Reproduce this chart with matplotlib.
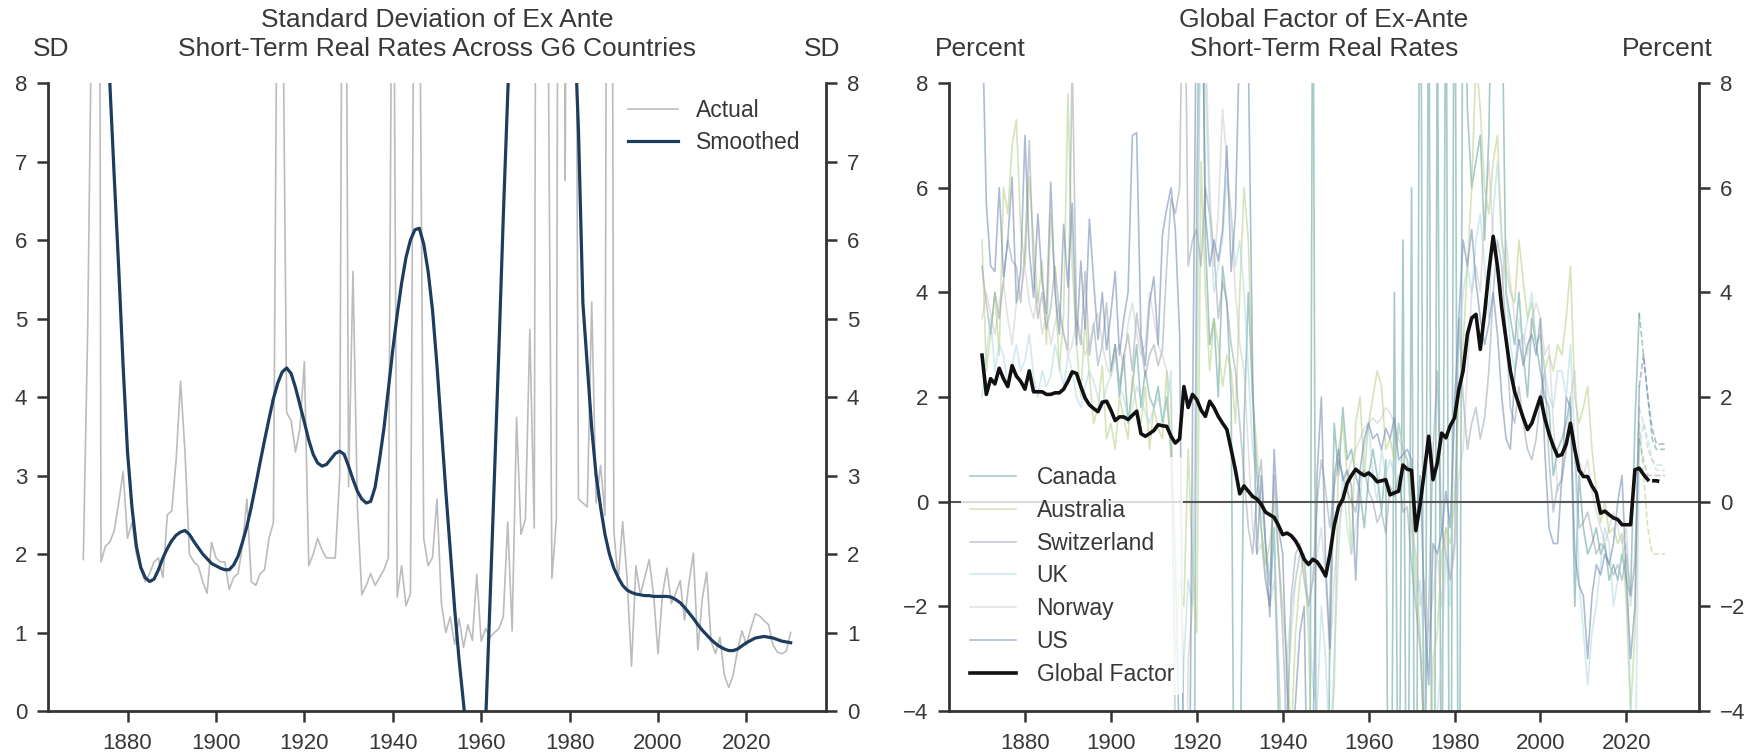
import numpy as np
import matplotlib
matplotlib.use('Agg')
import matplotlib.pyplot as plt

plt.rcParams['font.family'] = ['Liberation Sans', 'DejaVu Sans']

# ---------------- left panel data (1870-2030) ----------------
sd_years = list(range(1870, 2031))

sd_actual = [
    1.93, 4.9, 9.5, 30.0, 1.9, 2.1, 2.15, 2.3, 2.65, 3.05,      # 1870s
    2.2, 2.4, 2.0, 1.8, 1.65, 1.75, 1.9, 1.95, 1.7, 2.5,        # 1880s
    2.55, 3.2, 4.2, 3.3, 2.0, 1.9, 1.85, 1.65, 1.5, 2.15,       # 1890s
    1.95, 1.9, 1.9, 1.55, 1.7, 1.75, 2.1, 2.7, 1.65, 1.6,       # 1900s
    1.75, 1.8, 2.2, 2.4, 11.0, 10.0, 3.8, 3.7, 3.3, 3.6,        # 1910s
    4.45, 1.85, 2.0, 2.2, 2.05, 1.95, 1.95, 1.95, 3.0, 16.0,    # 1920s
    2.86, 5.6, 2.6, 1.48, 1.6, 1.75, 1.6, 1.7, 1.8, 1.95,       # 1930s
    12.0, 1.45, 1.85, 1.34, 1.5, 12.0, 10.0, 2.2, 1.85, 1.96,   # 1940s
    2.7, 1.37, 1.0, 1.2, 0.85, 1.18, 0.81, 1.1, 0.9, 1.74,      # 1950s
    0.89, 1.05, 0.94, 1.0, 1.05, 1.2, 2.41, 1.02, 3.74, 2.25,   # 1960s
    2.44, 4.86, 2.33, 25.0, 20.0, 10.0, 1.69, 2.44, 25.0, 6.76, # 1970s
    20.0, 16.0, 2.7, 2.65, 2.6, 5.21, 2.65, 3.13, 2.49, 25.0,   # 1980s
    2.3, 1.66, 2.41, 1.69, 0.57, 1.85, 1.48, 1.7, 1.93, 1.48,   # 1990s
    0.73, 1.48, 1.82, 1.37, 1.5, 1.66, 1.16, 1.64, 2.01, 0.78,  # 2000s
    1.42, 1.77, 0.89, 0.73, 0.94, 0.46, 0.30, 0.46, 0.78, 1.02, # 2010s
    0.84, 1.05, 1.24, 1.21, 1.15, 1.1, 0.84, 0.75, 0.73, 0.76, 1.0,
]

sd_smoothed = [
    17.0, 15.5, 13.8, 12.1, 10.6, 9.25, 8.0, 6.8, 5.65, 4.4,
    3.3, 2.6, 2.1, 1.83, 1.7, 1.65, 1.68, 1.8, 1.95, 2.07,
    2.17, 2.24, 2.28, 2.3, 2.25, 2.16, 2.08, 2.0, 1.94, 1.88,
    1.85, 1.82, 1.8, 1.8, 1.86, 1.97, 2.15, 2.35, 2.6, 2.88,
    3.17, 3.45, 3.72, 3.98, 4.18, 4.32, 4.37, 4.3, 4.12, 3.9,
    3.68, 3.45, 3.27, 3.16, 3.12, 3.14, 3.21, 3.28, 3.31, 3.27,
    3.12, 2.95, 2.8, 2.7, 2.65, 2.67, 2.85, 3.2, 3.6, 4.1,
    4.6, 5.05, 5.45, 5.78, 6.0, 6.13, 6.15, 5.95, 5.6, 5.1,
    4.4, 3.6, 2.8, 2.05, 1.3, 0.65, 0.1, -0.45, -0.9, -1.0,
    -0.7, -0.15, 1.4, 3.0, 4.6, 6.3, 7.85, 9.3, 10.5, 11.5,
    12.2, 12.6, 12.8, 12.8, 12.6, 12.3, 12.0, 11.6, 11.6, 10.9,
    10.0, 8.9, 7.4, 5.2, 4.4, 3.6, 3.0, 2.6, 2.25, 2.0,
    1.82, 1.7, 1.6, 1.54, 1.51, 1.49, 1.48, 1.47, 1.47, 1.46,
    1.46, 1.46, 1.46, 1.45, 1.42, 1.38, 1.32, 1.25, 1.18, 1.1,
    1.03, 0.97, 0.91, 0.86, 0.82, 0.79, 0.77, 0.77, 0.79, 0.83,
    0.87, 0.9, 0.93, 0.94, 0.95, 0.94, 0.93, 0.91, 0.89, 0.88, 0.87,
]

# ---------------- right panel data ----------------
cty_years = list(range(1870, 2024))
can_years = list(range(1900, 2024))
proj_years = list(range(2023, 2030))

canada = [
    2.5, 3.0, 2.0, 2.8, 1.5, 2.2, 3.0, 1.8, 2.5, 2.0,
    1.8, 2.2, 1.5, 2.0, 1.0, -1.0, -5.0, -12.0, -8.0, -15.0,
    6.0, 12.0, 5.0, 3.0, 3.5, 2.0, 4.5, 3.8, 2.0, -10.0,
    -6.0, 1.5, 4.0, 2.0, 0.5, -0.5, -1.5, -2.0, -0.5, -4.0,
    -9.0, -6.0, -10.0, -5.0, -12.0, -8.0, -15.0, 12.0, -10.0, -8.0,
    -12.0, -2.0, 1.5, 0.5, 1.8, 0.8, 1.0, 0.5, 0.2, -0.5,
    0.5, 1.0, 0.5, -0.2, 0.8, -12.0, 4.0, -8.0, 5.0, -10.0,
    6.0, -12.0, 15.0, -10.0, 12.0, -15.0, 10.0, -8.0, 12.0, -12.0,
    14.0, -10.0, 12.0, 7.5, 6.0, 6.5, 7.0, 5.0, 7.0, 12.0,
    9.0, 10.0, 4.0, 3.5, 3.0, 4.0, 2.8, 2.0, 3.5, 3.0,
    2.5, 2.0, 1.8, 0.5, 1.0, 1.2, 1.5, 2.0, -2.0, 0.5,
    -0.5, -1.0, -0.8, -0.5, -1.0, -0.8, -1.5, -1.2, -1.5, -1.0,
    -1.5, -1.8, 1.5, 3.6,
]

australia = [
    5.0, 2.5, 3.2, 4.0, 2.8, 6.0, 5.5, 6.8, 7.3, 5.2,
    4.5, 6.2, 5.0, 3.8, 4.6, 3.0, 5.5, 4.2, 2.5, 3.6,
    7.8, 4.5, 3.0, 2.0, 3.5, 2.4, 1.5, 1.8, 2.6, 1.2,
    1.5, 1.0, 2.0, 1.6, 1.2, 2.4, 1.8, 1.5, 2.2, 1.0,
    1.8, 1.4, 1.2, 2.5, 0.8, -3.0, -1.5, -2.0, 1.0, -1.2,
    -2.5, 6.5, 4.0, 2.5, 3.5, 3.0, 2.2, 2.8, 2.5, 1.5,
    4.0, 6.0, 5.0, 2.0, 1.0, -0.5, -1.2, -0.8, 0.0, -1.0,
    -2.0, -3.0, -4.5, -2.5, -1.5, -1.0, -2.5, -6.0, -8.0, -6.0,
    -12.0, -5.0, -3.5, 1.0, 1.5, 0.5, -1.0, 1.5, 2.0, 0.5,
    1.5, 2.0, 2.5, 2.2, 1.0, 1.2, 0.8, 1.5, 1.0, 0.8,
    0.2, -1.5, -2.5, -5.0, -8.0, -3.0, -2.5, -1.0, -0.5, -0.8,
    0.0, 2.0, 3.0, 4.5, 6.0, 8.5, 7.5, 6.0, 5.5, 6.5,
    7.0, 5.0, 4.5, 4.0, 3.8, 5.0, 4.2, 3.5, 3.8, 3.0,
    3.2, 2.5, 2.8, 2.5, 3.0, 2.8, 3.5, 4.5, 2.0, 1.5,
    1.8, 2.2, 1.0, 0.2, -0.4, 0.0, -0.6, -0.5, -0.8, -0.6,
    -2.0, -4.0, -2.5, 1.5,
]

switzerland = [
    4.5, 3.8, 3.2, 4.0, 3.5, 4.2, 5.0, 4.6, 4.5, 3.8,
    4.8, 6.9, 4.4, 3.5, 4.0, 3.3, 3.7, 4.5, 3.6, 3.2,
    2.9, 8.5, 3.5, 3.0, 4.4, 2.8, 3.4, 2.6, 3.0, 3.8,
    2.5, 3.0, 2.2, 2.8, 3.2, 2.5, 3.6, 3.0, 2.4, 2.8,
    3.0, 2.6, 2.9, 4.5, 5.8, 5.5, 6.0, 12.0, 4.5, 5.0,
    5.2, 4.5, 6.0, 5.5, 4.8, 3.5, 4.2, 3.8, 3.0, 2.5,
    1.5, 0.5, -0.5, -1.0, 0.2, 0.8, -0.8, -1.6, 0.5, -1.0,
    -2.5, -4.5, -1.8, -1.0, -0.8, -1.5, -2.0, -1.5, 0.0, 0.8,
    0.2, -0.5, 0.3, 0.8, 0.5, 0.2, 0.0, -0.2, 0.5, 0.6,
    0.2, 0.0, -0.4, -0.2, -0.6, 0.3, 0.1, 0.5, -0.2, -0.1,
    -1.2, -2.0, -2.8, -4.5, -2.0, 1.0, 2.5, -0.5, -1.0, -1.5,
    -0.8, 3.5, 2.0, 1.0, 1.5, 1.8, 1.2, 1.6, 2.5, 4.0,
    5.0, 4.5, 3.2, 1.8, 1.5, 2.2, 1.5, 1.0, 0.8, 1.2,
    2.0, 2.5, 0.8, -0.2, 0.3, 0.4, 1.0, 1.5, 1.0, -0.5,
    -0.4, -0.2, -0.6, -1.0, -0.8, -0.9, -1.2, -1.4, -1.2, -1.5,
    -1.0, -1.8, -1.2, 1.2,
]

uk = [
    2.0, 2.8, 3.5, 2.5, 3.0, 2.8, 2.2, 2.6, 3.0, 2.5,
    2.7, 3.2, 2.4, 2.0, 2.5, 2.2, 2.4, 3.0, 2.6, 2.2,
    2.8, 2.5, 2.0, 1.8, 2.2, 2.5, 2.3, 2.0, 1.8, 2.2,
    2.4, 2.8, 2.2, 2.0, 1.6, 1.8, 2.2, 2.0, 1.7, 1.5,
    1.8, 2.0, 1.6, 1.8, 2.5, -4.0, -6.0, -3.0, -1.5, -2.0,
    1.0, 12.0, 8.0, 5.5, 4.0, 4.5, 5.0, 6.2, 5.5, 4.5,
    5.0, 4.0, 2.5, 1.0, 0.5, 0.0, -0.8, -1.5, -0.5, -3.0,
    -5.0, -3.0, -2.0, -1.5, -1.0, -1.0, -2.0, -3.5, -4.0, -2.0,
    -3.0, -5.0, -3.0, -1.0, 0.5, -0.5, -1.0, -0.5, 0.0, 1.0,
    1.5, 0.5, 0.0, 1.0, 0.5, 0.8, 0.5, 1.5, 1.0, 0.8,
    -0.5, -2.0, -1.5, -3.0, -6.0, -10.0, -4.0, -3.0, -1.0, -2.0,
    2.0, 3.0, 4.0, 4.5, 4.0, 5.0, 5.5, 4.5, 3.5, 5.5,
    6.5, 5.0, 4.0, 3.0, 2.5, 3.5, 3.0, 3.5, 4.0, 3.0,
    3.2, 2.5, 2.0, 1.8, 2.5, 2.5, 2.0, 3.0, 1.0, -1.5,
    -2.5, -3.5, -2.5, -2.0, -1.2, -0.5, -0.8, -2.0, -1.5, -1.0,
    -0.8, -4.0, -6.0, 1.0,
]

norway = [
    3.5, 4.0, 3.6, 3.2, 3.8, 4.2, 3.5, 3.0, 3.8, 4.0,
    4.5, 3.8, 3.5, 4.0, 3.2, 3.6, 3.0, 3.4, 3.8, 3.2,
    2.8, 3.0, 3.5, 3.2, 2.8, 3.0, 3.4, 3.6, 3.0, 2.6,
    2.4, 2.8, 3.0, 2.5, 3.4, 3.8, 3.2, 2.8, 3.0, 4.0,
    3.5, 3.0, 2.8, 2.5, 2.0, -5.0, -8.0, -10.0, -3.0, -2.0,
    4.0, 10.0, 9.0, 6.0, 4.5, 5.5, 7.5, 6.5, 5.5, 4.0,
    3.0, 2.5, 1.0, -0.5, -1.0, -0.8, -1.5, -2.0, -1.5, -3.0,
    -6.0, -4.0, -2.5, -1.5, -1.0, -1.2, -2.0, -1.5, -1.0, -0.5,
    -1.5, -3.0, -1.5, -0.5, 0.0, 0.5, 0.8, 1.0, 1.2, 1.4,
    1.5, 1.6, 1.5, 1.6, 1.8, 1.7, 1.5, 1.2, 1.0, 0.8,
    -0.5, -1.0, -2.0, -1.5, -2.5, -1.8, -1.0, -2.0, -0.5, -1.5,
    -1.0, 0.5, 1.0, 2.5, 4.0, 4.5, 4.0, 5.5, 6.5, 5.0,
    4.5, 4.0, 5.0, 4.2, 3.5, 3.0, 3.2, 2.8, 3.5, 3.8,
    3.5, 2.8, 3.0, 1.5, 0.2, 0.5, 1.0, 2.0, 2.5, 0.8,
    0.5, 0.8, 0.2, -0.2, -0.5, -0.8, -0.5, -0.2, -0.5, -0.8,
    -0.5, -2.0, -1.0, 1.8,
]

us = [
    9.5, 5.7, 4.5, 4.4, 6.0, 4.3, 5.0, 6.2, 3.8, 4.4,
    7.0, 4.8, 3.9, 5.5, 4.2, 3.6, 6.1, 4.0, 3.2, 5.3,
    4.1, 5.7, 3.0, 4.6, 3.3, 5.4, 4.2, 3.1, 4.0, 2.9,
    3.6, 4.4, 2.8, 3.5, 4.0, 7.0, 7.05, 3.2, 2.6, 3.8,
    4.3, 3.0, 5.1, 5.6, 6.0, 5.2, 3.2, -6.0, -9.0, 1.5,
    10.5, 12.0, 5.5, 4.5, 5.0, 4.6, 5.2, 6.8, 4.4, 5.5,
    9.0, 12.0, 8.5, 2.5, -1.0, 0.5, -0.8, -2.2, 1.0, -0.5,
    -1.0, -3.5, -5.0, -3.8, -2.5, -2.0, -7.0, -5.0, 0.5, 2.0,
    -1.2, -2.8, 0.5, 1.0, 0.4, 0.6, 0.3, -1.5, 0.6, 1.2,
    1.5, 1.2, 1.3, 1.0, 1.4, 1.2, 1.6, 0.8, 0.9, 1.0,
    0.8, -0.6, 0.5, -2.0, -3.5, -0.8, -1.0, -0.6, 0.2, -0.5,
    1.8, 3.5, 5.0, 4.5, 5.2, 4.2, 3.5, 3.0, 3.4, 4.0,
    3.2, 2.0, 1.2, 1.0, 2.4, 3.1, 2.6, 3.0, 3.2, 2.8,
    3.5, 1.0, -0.5, -0.8, -0.8, 0.5, 2.0, 1.8, -1.0, -1.6,
    -1.8, -3.0, -1.8, -1.2, -1.4, -1.0, -1.2, -0.8, 0.0, 0.5,
    -1.5, -3.0, -2.0, 2.2,
]

# dashed projections 2023-2029
canada_proj = [3.6, 2.8, 2.0, 1.2, 1.0, 1.0, 1.0]
australia_proj = [1.5, 0.5, -0.5, -1.0, -1.0, -1.0, -1.0]
switzerland_proj = [1.2, 0.8, 0.5, 0.5, 0.5, 0.5, 0.5]
uk_proj = [1.0, 1.5, 1.2, 0.8, 0.7, 0.7, 0.7]
norway_proj = [1.8, 1.5, 1.0, 0.8, 0.6, 0.6, 0.6]
us_proj = [2.2, 2.8, 2.0, 1.4, 1.1, 1.1, 1.1]

gf_years = list(range(1870, 2026))
global_factor = [
    2.8, 2.05, 2.35, 2.25, 2.55, 2.35, 2.2, 2.6, 2.4, 2.3,
    2.15, 2.5, 2.1, 2.1, 2.1, 2.05, 2.05, 2.08, 2.08, 2.15,
    2.3, 2.48, 2.45, 2.2, 1.98, 1.85, 1.78, 1.72, 1.9, 1.92,
    1.75, 1.55, 1.62, 1.62, 1.57, 1.65, 1.73, 1.3, 1.25, 1.3,
    1.36, 1.47, 1.45, 1.44, 1.25, 1.12, 1.2, 2.2, 1.8, 2.05,
    1.95, 1.75, 1.63, 1.92, 1.8, 1.63, 1.5, 1.38, 1.0, 0.6,
    0.15, 0.3, 0.2, 0.1, 0.05, -0.05, -0.2, -0.25, -0.3, -0.45,
    -0.63, -0.6, -0.65, -0.75, -0.9, -1.1, -1.2, -1.1, -1.15, -1.27,
    -1.42, -1.0, -0.45, -0.1, 0.05, 0.35, 0.5, 0.62, 0.55, 0.5,
    0.55, 0.48, 0.38, 0.4, 0.42, 0.13, 0.17, 0.2, 0.7, 0.62,
    0.6, -0.55, -0.05, 0.6, 1.25, 0.42, 0.74, 1.31, 1.22, 1.45,
    1.6, 2.14, 2.5, 3.2, 3.51, 3.58, 2.91, 3.6, 4.4, 5.07,
    4.5, 3.7, 3.1, 2.5, 2.1, 1.85, 1.6, 1.38, 1.5, 1.75,
    2.0, 1.6, 1.3, 1.06, 0.87, 0.9, 1.1, 1.5, 1.0, 0.6,
    0.48, 0.48, 0.3, 0.17, -0.22, -0.18, -0.25, -0.31, -0.34, -0.44,
    -0.44, -0.44, 0.61, 0.64, 0.52, 0.42,
]
gf_proj_years = [2026, 2027, 2028, 2029]
gf_proj = [0.4, 0.4, 0.38, 0.38]

yticks_left = [0, 1, 2, 3, 4, 5, 6, 7, 8]
yticks_right = [-4, -2, 0, 2, 4, 6, 8]
xticks = [1880, 1900, 1920, 1940, 1960, 1980, 2000, 2020]

TEXT = '#383838'
AXC = '#333333'


def style_axis(ax, ylim, yticks, xlim):
    ax.set_xlim(*xlim)
    ax.set_ylim(*ylim)
    ax.set_xticks(xticks)
    ax.set_yticks(yticks)
    ax.spines['top'].set_visible(False)
    for s in ['left', 'right', 'bottom']:
        ax.spines[s].set_color(AXC)
        ax.spines[s].set_linewidth(2.0)
    ax.tick_params(axis='both', direction='out', length=8, width=1.8,
                   color=AXC, labelcolor=TEXT, labelsize=16)
    ax.tick_params(axis='y', left=True, right=True, labelleft=True,
                   labelright=True, pad=7)
    ax.tick_params(axis='x', pad=8)


fig = plt.figure(figsize=(17.56, 7.56), dpi=100)
ax1 = fig.add_axes([0.0273, 0.0595, 0.4431, 0.8307])
ax2 = fig.add_axes([0.5404, 0.0595, 0.4271, 0.8307])

# left panel
ax1.plot(sd_years, sd_actual, color='#bcbcbc', lw=1.2, label='Actual')
ax1.plot(sd_years, sd_smoothed, color='#1d3d5e', lw=2.3, label='Smoothed')
style_axis(ax1, (0, 8), yticks_left, (1862, 2038))
leg1 = ax1.legend(loc='upper left', bbox_to_anchor=(0.745, 0.975), frameon=False,
                  fontsize=16.5, handlelength=2.2, handletextpad=0.8,
                  labelspacing=0.42, borderpad=0, borderaxespad=0)
for t in leg1.get_texts():
    t.set_color(TEXT)

# right panel
countries = [
    ('Canada', can_years, canada, canada_proj, '#5e9f9a', 0.55),
    ('Australia', cty_years, australia, australia_proj, '#b5cf85', 0.55),
    ('Switzerland', cty_years, switzerland, switzerland_proj, '#7f8e9c', 0.45),
    ('UK', cty_years, uk, uk_proj, '#a6d4de', 0.5),
    ('Norway', cty_years, norway, norway_proj, '#b8b8b8', 0.4),
    ('US', cty_years, us, us_proj, '#6c85b0', 0.55),
]
for name, yrs, vals, proj, col, a in countries:
    ax2.plot(yrs, vals, color=col, lw=1.2, alpha=a, label=name, zorder=1)
    ax2.plot(proj_years, proj, color=col, lw=1.2, alpha=a, ls='--', zorder=1)

ax2.axhline(0, color='#555555', lw=1.5, zorder=2)
ax2.plot(gf_years, global_factor, color='#111111', lw=2.6, label='Global Factor', zorder=3)
ax2.plot(gf_proj_years, gf_proj, color='#111111', lw=2.6, ls=(0, (2, 2)), zorder=3)
style_axis(ax2, (-4, 8), yticks_right, (1862.3, 2036.9))
leg2 = ax2.legend(loc='upper left', bbox_to_anchor=(0.016, 0.405), frameon=True,
                  fontsize=16.5, handlelength=2.0, handletextpad=0.9,
                  labelspacing=0.43, borderpad=0.4, borderaxespad=0,
                  facecolor='white', edgecolor='none', framealpha=0.8)
leg2.set_zorder(5)
for t in leg2.get_texts():
    t.set_color(TEXT)

# titles and unit labels
fig.text(0.249, 0.9735, 'Standard Deviation of Ex Ante', ha='center', va='center',
         fontsize=19, color=TEXT)
fig.text(0.249, 0.935, 'Short-Term Real Rates Across G6 Countries', ha='center',
         va='center', fontsize=19, color=TEXT)
fig.text(0.0188, 0.935, 'SD', ha='left', va='center', fontsize=19, color=TEXT)
fig.text(0.4784, 0.935, 'SD', ha='right', va='center', fontsize=19, color=TEXT)

fig.text(0.754, 0.9735, 'Global Factor of Ex-Ante', ha='center', va='center',
         fontsize=19, color=TEXT)
fig.text(0.754, 0.935, 'Short-Term Real Rates', ha='center', va='center',
         fontsize=19, color=TEXT)
fig.text(0.5325, 0.935, 'Percent', ha='left', va='center', fontsize=19, color=TEXT)
fig.text(0.9755, 0.935, 'Percent', ha='right', va='center', fontsize=19, color=TEXT)

fig.savefig('out.png', dpi=100)
